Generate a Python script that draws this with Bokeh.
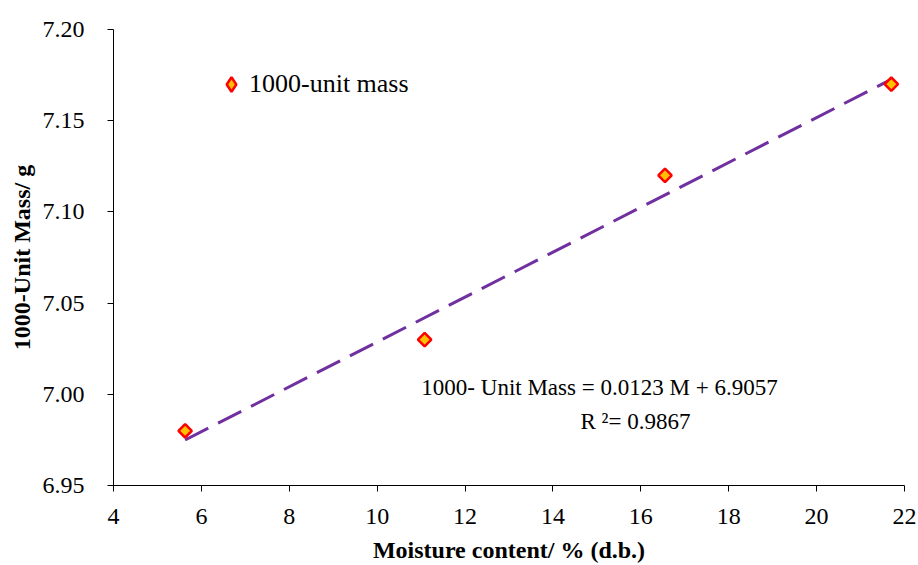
import numpy as np
from bokeh.plotting import figure
from bokeh.models import Range1d, FixedTicker, Legend, LegendItem, Label, CustomJSTickFormatter
from bokeh.embed import file_html
from bokeh.resources import INLINE

moisture = [5.63, 11.08, 16.55, 21.70]
unit_mass = [6.98, 7.03, 7.12, 7.17]
slope = 0.0123
intercept = 6.9057
r2 = 0.9867
x_ticks = [4, 6, 8, 10, 12, 14, 16, 18, 20, 22]
y_ticks = [6.95, 7.00, 7.05, 7.10, 7.15, 7.20]

FONT = "Liberation Serif"

p = figure(frame_width=791, frame_height=456, output_backend="svg", toolbar_location=None,
           x_range=Range1d(4, 22), y_range=Range1d(6.95, 7.20))
p.min_border_left = 113
p.min_border_right = 14
p.min_border_top = 29
p.min_border_bottom = 80
p.outline_line_color = None
p.grid.visible = False
p.background_fill_color = "white"
p.border_fill_color = "white"

# trendline
tx = np.array([min(moisture), max(moisture)])
ty = slope * tx + intercept
p.line(tx, ty, line_color="#7030A0", line_width=3, line_dash="26 11")

p.scatter(moisture, unit_mass, marker="square", size=9.5, angle=np.pi / 4,
          fill_color="#FFC000", line_color="#FF0000", line_width=2.5)

# hidden renderer used only for the legend symbol
leg_r = p.scatter(moisture, unit_mass, marker="diamond", size=10,
                  fill_color="#FFC000", line_color="#FF0000", line_width=2.5, visible=False)

for ax in (p.xaxis[0], p.yaxis[0]):
    ax.axis_line_color = "#000000"
    ax.axis_line_width = 1
    ax.major_tick_line_color = "#000000"
    ax.major_tick_out = 6
    ax.major_tick_in = 0
    ax.minor_tick_line_color = None
    ax.major_label_text_font = FONT
    ax.major_label_text_font_size = "24px"
    ax.major_label_text_color = "#000000"
    ax.axis_label_text_font = FONT
    ax.axis_label_text_font_size = "24px"
    ax.axis_label_text_font_style = "bold"
    ax.axis_label_text_color = "#000000"

p.xaxis[0].ticker = FixedTicker(ticks=x_ticks)
p.yaxis[0].ticker = FixedTicker(ticks=y_ticks)
p.yaxis[0].formatter = CustomJSTickFormatter(code="return tick.toFixed(2);")
p.xaxis[0].axis_label = "Moisture content/ % (d.b.)"
p.yaxis[0].axis_label = "1000-Unit Mass/ g"
p.xaxis[0].major_label_standoff = 17
p.xaxis[0].axis_label_standoff = 10
p.yaxis[0].major_label_standoff = 23
p.yaxis[0].axis_label_standoff = 5

legend = Legend(items=[LegendItem(label="1000-unit mass", renderers=[leg_r])],
                location=(100, 383), border_line_color=None, background_fill_alpha=0,
                inactive_fill_alpha=0, click_policy="none",
                label_text_font=FONT, label_text_font_size="26px", label_text_color="#000000",
                glyph_width=36, glyph_height=36, label_standoff=-6, padding=0, margin=0)
p.add_layout(legend)

p.add_layout(Label(x=486, y=456 - (387 - 29), x_units="screen", y_units="screen",
                   text=f"1000- Unit Mass = {slope} M + {intercept}", text_align="center",
                   text_baseline="middle", text_font=FONT, text_font_size="23px",
                   text_color="#000000"))
p.add_layout(Label(x=522, y=456 - (421 - 29), x_units="screen", y_units="screen",
                   text=f"R ²= {r2}", text_align="center",
                   text_baseline="middle", text_font=FONT, text_font_size="23px",
                   text_color="#000000"))

open("out.html", "w").write(file_html(p, INLINE))
